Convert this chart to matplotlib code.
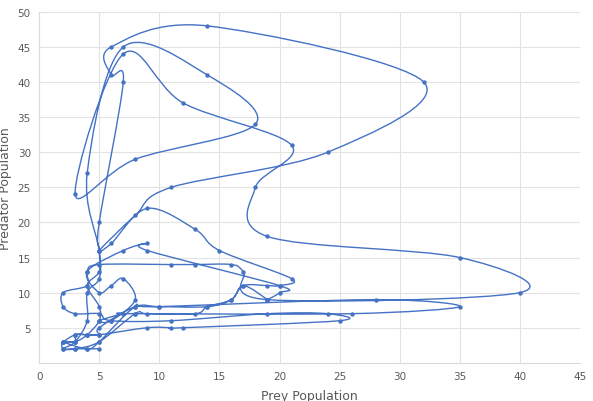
import matplotlib
matplotlib.use('Agg')
import matplotlib.pyplot as plt
from matplotlib.path import Path
from matplotlib.patches import PathPatch

# prey / predator populations, in time order
prey = [5, 4, 3, 2, 2, 3, 3, 4, 5, 9, 11, 12, 25, 24, 19, 11, 6, 5, 3, 2,
        2, 4, 4, 5, 11, 13, 16, 17, 19, 40, 35, 19, 18, 21, 12, 7, 3, 8, 18, 14,
        7, 4, 5, 5, 4, 4, 3, 2, 3, 5, 8, 9, 13, 14, 16, 17, 19, 20, 21, 15,
        13, 9, 6, 5, 8, 11, 24, 32, 14, 6, 6, 7, 5, 5, 5, 4, 5, 5, 4, 3,
        2, 4, 5, 8, 10, 28, 35, 26, 8, 7, 5, 6, 8, 7, 6, 5, 4, 7, 9, 9,
        20, 20, 19, 19, 17, 16, 14, 10, 8, 5, 5, 4, 3, 2]
predator = [2, 2, 2, 2, 3, 3, 4, 4, 4, 5, 5, 5, 6, 7, 7, 6, 6, 7, 7, 8,
            10, 11, 13, 14, 14, 14, 14, 13, 9, 10, 15, 18, 25, 31, 37, 44, 24, 29, 34, 41,
            45, 27, 16, 12, 10, 6, 3, 2, 2, 3, 7, 7, 7, 8, 9, 11, 11, 11, 12, 16,
            19, 22, 17, 16, 21, 25, 30, 40, 48, 45, 41, 40, 20, 16, 13, 11, 8, 6, 4, 3,
            3, 2, 3, 8, 8, 9, 8, 7, 7, 7, 6, 6, 9, 12, 11, 10, 13, 16, 17, 16,
            11, 10, 9, 9, 11, 9, 8, 8, 8, 5, 4, 4, 4, 3]

x_ticks = list(range(0, 46, 5))
y_ticks = list(range(5, 51, 5))

blue = '#4472C4'
grey = '#595959'


def smooth_path(xs, ys):
    # Excel-like smoothed line: Catmull-Rom segments as cubic Beziers
    pts = list(zip(xs, ys))
    n = len(pts)
    verts = [pts[0]]
    codes = [Path.MOVETO]
    for i in range(n - 1):
        p0 = pts[i - 1] if i > 0 else pts[i]
        p1 = pts[i]
        p2 = pts[i + 1]
        p3 = pts[i + 2] if i + 2 < n else pts[i + 1]
        c1 = (p1[0] + (p2[0] - p0[0]) / 6, p1[1] + (p2[1] - p0[1]) / 6)
        c2 = (p2[0] - (p3[0] - p1[0]) / 6, p2[1] - (p3[1] - p1[1]) / 6)
        verts += [c1, c2, p2]
        codes += [Path.CURVE4] * 3
    return Path(verts, codes)


fig = plt.figure(figsize=(5.93, 4.02), dpi=100)
ax = fig.add_axes([0.066, 0.095, 0.912, 0.873])

ax.add_patch(PathPatch(smooth_path(prey, predator), fill=False,
                       edgecolor=blue, linewidth=1.0, zorder=3))
ax.scatter(prey, predator, s=10, color=blue, zorder=4, linewidths=0)

ax.set_xlim(0, 45)
ax.set_ylim(0, 50)
ax.set_xticks(x_ticks)
ax.set_yticks(y_ticks)
ax.grid(True, color='#E3E3E3', linewidth=0.8)
ax.set_axisbelow(True)
for side in ['top', 'right']:
    ax.spines[side].set_visible(False)
for side in ['left', 'bottom']:
    ax.spines[side].set_color('#DADADA')
ax.tick_params(length=0, labelsize=7.5, labelcolor=grey, pad=6)

ax.set_xlabel('Prey Population', fontsize=9, color=grey, labelpad=6)
ax.set_ylabel('Predator Population', fontsize=9, color=grey, labelpad=4)

fig.savefig('out.png', dpi=100)
